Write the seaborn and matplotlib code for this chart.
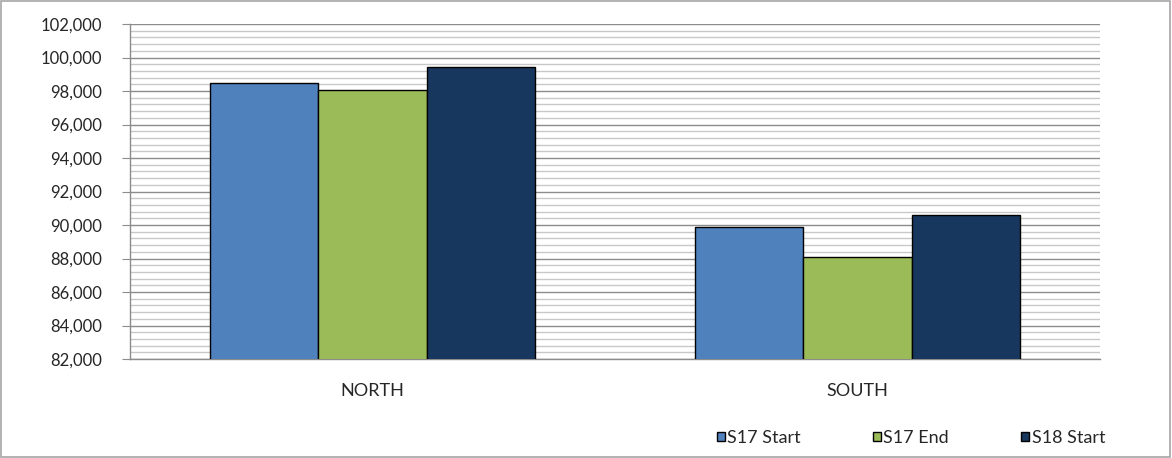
import pandas as pd
import seaborn as sns
import matplotlib.pyplot as plt
from matplotlib.ticker import MultipleLocator, FuncFormatter

# data
regions = ['NORTH', 'SOUTH']
series = ['S17 Start', 'S17 End', 'S18 Start']
s17_start = [98480, 89900]
s17_end = [98060, 88090]
s18_start = [99410, 90600]
colors = ['#4F81BD', '#9BBB59', '#17375E']

df = pd.DataFrame({
    'region': regions * 3,
    'series': [s for s in series for _ in regions],
    'value': s17_start + s17_end + s18_start,
})

sns.set_style('white')
plt.rcParams['font.family'] = ['Lato', 'DejaVu Sans']

fig = plt.figure(figsize=(11.72, 4.58), dpi=100)
ax = fig.add_axes([130 / 1172, 1 - 359 / 458, 970 / 1172, 335 / 458])

sns.barplot(data=df, x='region', y='value', hue='series', order=regions,
            hue_order=series, palette=colors, saturation=1, width=0.67,
            edgecolor='black', linewidth=1.0, ax=ax, legend=True, zorder=3)

ax.set_ylim(82000, 102000)
ax.set_xlim(-0.5, 1.5)
ax.yaxis.set_major_locator(MultipleLocator(2000))
ax.yaxis.set_minor_locator(MultipleLocator(400))
ax.yaxis.set_major_formatter(FuncFormatter(lambda v, p: f'{int(v):,}'))
ax.grid(which='major', axis='y', color='#8c8c8c', linewidth=1.0, zorder=0)
ax.grid(which='minor', axis='y', color='#c8c8c8', linewidth=1.0, zorder=0)
ax.set_axisbelow(True)

# category separators as x ticks
ax.set_xticks([-0.5, 0.5, 1.5], minor=True)
ax.tick_params(axis='x', which='minor', length=6, color='#8c8c8c', direction='out')
ax.tick_params(axis='x', which='major', length=0, pad=17, labelsize=13)
ax.tick_params(axis='y', which='major', length=6, color='#8c8c8c', direction='out',
               labelsize=12, left=True, pad=14)
ax.tick_params(axis='y', which='minor', length=0)
ax.set_xlabel('')
ax.set_ylabel('')

for side in ['top', 'right']:
    ax.spines[side].set_visible(False)
for side in ['left', 'bottom']:
    ax.spines[side].set_color('#8c8c8c')
    ax.spines[side].set_linewidth(1.0)

handles, labels = ax.get_legend_handles_labels()
ax.legend(handles, labels, loc='center', bbox_to_anchor=(911 / 1172, 1 - 438 / 458),
          bbox_transform=fig.transFigure, ncol=3, frameon=False, fontsize=13,
          handlelength=0.42, handleheight=0.42, handletextpad=0.15, columnspacing=4.0)

# outer chart border
fig.patches.append(plt.Rectangle((0.001, 0.002), 0.997, 0.996, transform=fig.transFigure,
                                 fill=False, edgecolor='#a6a6a6', linewidth=1.2))

fig.savefig('out.png', dpi=100)
